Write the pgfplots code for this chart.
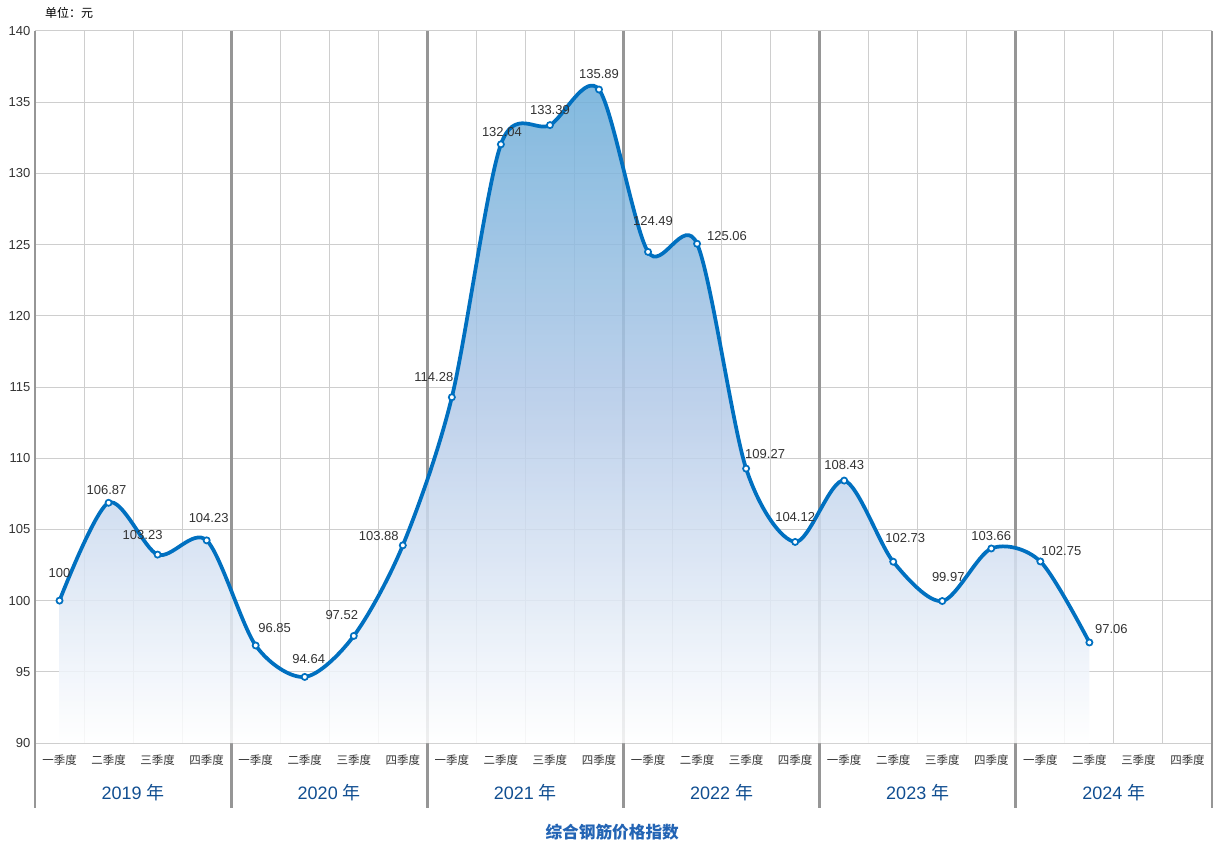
\documentclass[border=0pt]{standalone}
\usepackage{fontspec}
\setmainfont{Liberation Sans}
\newfontfamily\cjk{Noto Sans CJK SC}
\usepackage{pgfplots}
\pgfplotsset{compat=1.18}
\usepackage{pgfplotstable}

\definecolor{linec}{RGB}{0,112,192}
\definecolor{topc}{RGB}{105,172,216}
\definecolor{midc}{RGB}{180,202,232}
\definecolor{sepc}{RGB}{150,150,150}
\definecolor{gridc}{RGB}{206,206,206}
\definecolor{txt}{RGB}{51,51,51}
\definecolor{yearc}{RGB}{16,78,145}
\definecolor{titlec}{RGB}{35,100,180}

% quarter index, value, label offset (px, up positive), label
\pgfplotstableread{
x y dx dy lbl
0 100.00 0 28 100
1 106.87 -2 13 106.87
2 103.23 -15 20 103.23
3 104.23 2 22 104.23
4 96.85 19 17 96.85
5 94.64 4 18 94.64
6 97.52 -12 21 97.52
7 103.88 -24 9 103.88
8 114.28 -18 20 114.28
9 132.04 1 12 132.04
10 133.39 0 15 133.39
11 135.89 0 15 135.89
12 124.49 5 31 124.49
13 125.06 30 8 125.06
14 109.27 19 15 109.27
15 104.12 0 25 104.12
16 108.43 0 16 108.43
17 102.73 12 24 102.73
18 99.97 6 24 99.97
19 103.66 0 12 103.66
20 102.75 21 10 102.75
21 97.06 22 13 97.06
}\steel

\begin{document}
\begin{tikzpicture}
\begin{axis}[
    name=ax,
    scale only axis,
    width=882.75pt,
    height=534pt,
    xmin=-0.5, xmax=23.5,
    ymin=90, ymax=140,
    ytick={90,95,...,140},
    xtick={0,...,23},
    xticklabels={一季度,二季度,三季度,四季度,一季度,二季度,三季度,四季度,
                 一季度,二季度,三季度,四季度,一季度,二季度,三季度,四季度,
                 一季度,二季度,三季度,四季度,一季度,二季度,三季度,四季度},
    minor xtick={0.5,1.5,...,22.5},
    xminorgrids, ymajorgrids,
    grid style={gridc, line width=0.75pt},
    minor grid style={gridc, line width=0.75pt},
    major tick length=0pt, minor tick length=0pt,
    axis line style={draw=none},
    xticklabel style={font={\cjk\fontsize{8.6pt}{10pt}\selectfont}, text=txt, anchor=center, yshift=-12.75pt},
    yticklabel style={font=\fontsize{9.75pt}{11pt}\selectfont, text=txt},
    /pgf/number format/assume math mode=true,
    clip=false,
]
% year separators
\foreach \s in {-0.5,3.5,7.5,11.5,15.5,19.5,23.5}{
  \edef\tmp{\noexpand\draw[sepc, line width=2.2pt] (axis cs:\s,140) -- ([yshift=-48.75pt]axis cs:\s,90);}
  \tmp
}
% area under the curve
\addplot[draw=none, smooth, fill opacity=0.85,
    top color=topc, bottom color=white, middle color=midc]
    table[x=x, y=y] {\steel} \closedcycle;
% curve with markers and value labels
\addplot[linec, line width=2.8pt, smooth,
    mark=*, mark size=2.3pt,
    mark options={fill=white, draw=linec, line width=1.3pt},
    point meta=explicit symbolic,
    nodes near coords={\pgfplotspointmeta},
    visualization depends on={\thisrow{dx}\as\ddx},
    visualization depends on={\thisrow{dy}\as\ddy},
    every node near coord/.append style={anchor=center, text=txt,
        font=\fontsize{9.75pt}{11pt}\selectfont,
        xshift={\ddx*0.75pt}, yshift={\ddy*0.75pt}},
    ] table[x=x, y=y, meta=lbl] {\steel};
% year labels
\node[font=\fontsize{13.5pt}{15pt}\selectfont, text=yearc, yshift=-37.5pt] at (axis cs:1.5,90) {2019 {\cjk 年}};
\node[font=\fontsize{13.5pt}{15pt}\selectfont, text=yearc, yshift=-37.5pt] at (axis cs:5.5,90) {2020 {\cjk 年}};
\node[font=\fontsize{13.5pt}{15pt}\selectfont, text=yearc, yshift=-37.5pt] at (axis cs:9.5,90) {2021 {\cjk 年}};
\node[font=\fontsize{13.5pt}{15pt}\selectfont, text=yearc, yshift=-37.5pt] at (axis cs:13.5,90) {2022 {\cjk 年}};
\node[font=\fontsize{13.5pt}{15pt}\selectfont, text=yearc, yshift=-37.5pt] at (axis cs:17.5,90) {2023 {\cjk 年}};
\node[font=\fontsize{13.5pt}{15pt}\selectfont, text=yearc, yshift=-37.5pt] at (axis cs:21.5,90) {2024 {\cjk 年}};
% axis title and unit
\node[font={\cjk\bfseries\fontsize{12.5pt}{14pt}\selectfont}, text=titlec, yshift=-66.75pt] at (axis cs:11.27,90) {综合钢筋价格指数};
\node[font={\cjk\fontsize{9pt}{10pt}\selectfont}, text=black, anchor=west, xshift=4pt, yshift=13.5pt] at (rel axis cs:0,1) {单位：元};
\end{axis}
\path ([shift={(-26.25pt,-74.25pt)}]ax.south west) rectangle ([shift={(3pt,23.25pt)}]ax.north east);
\end{tikzpicture}
\end{document}
